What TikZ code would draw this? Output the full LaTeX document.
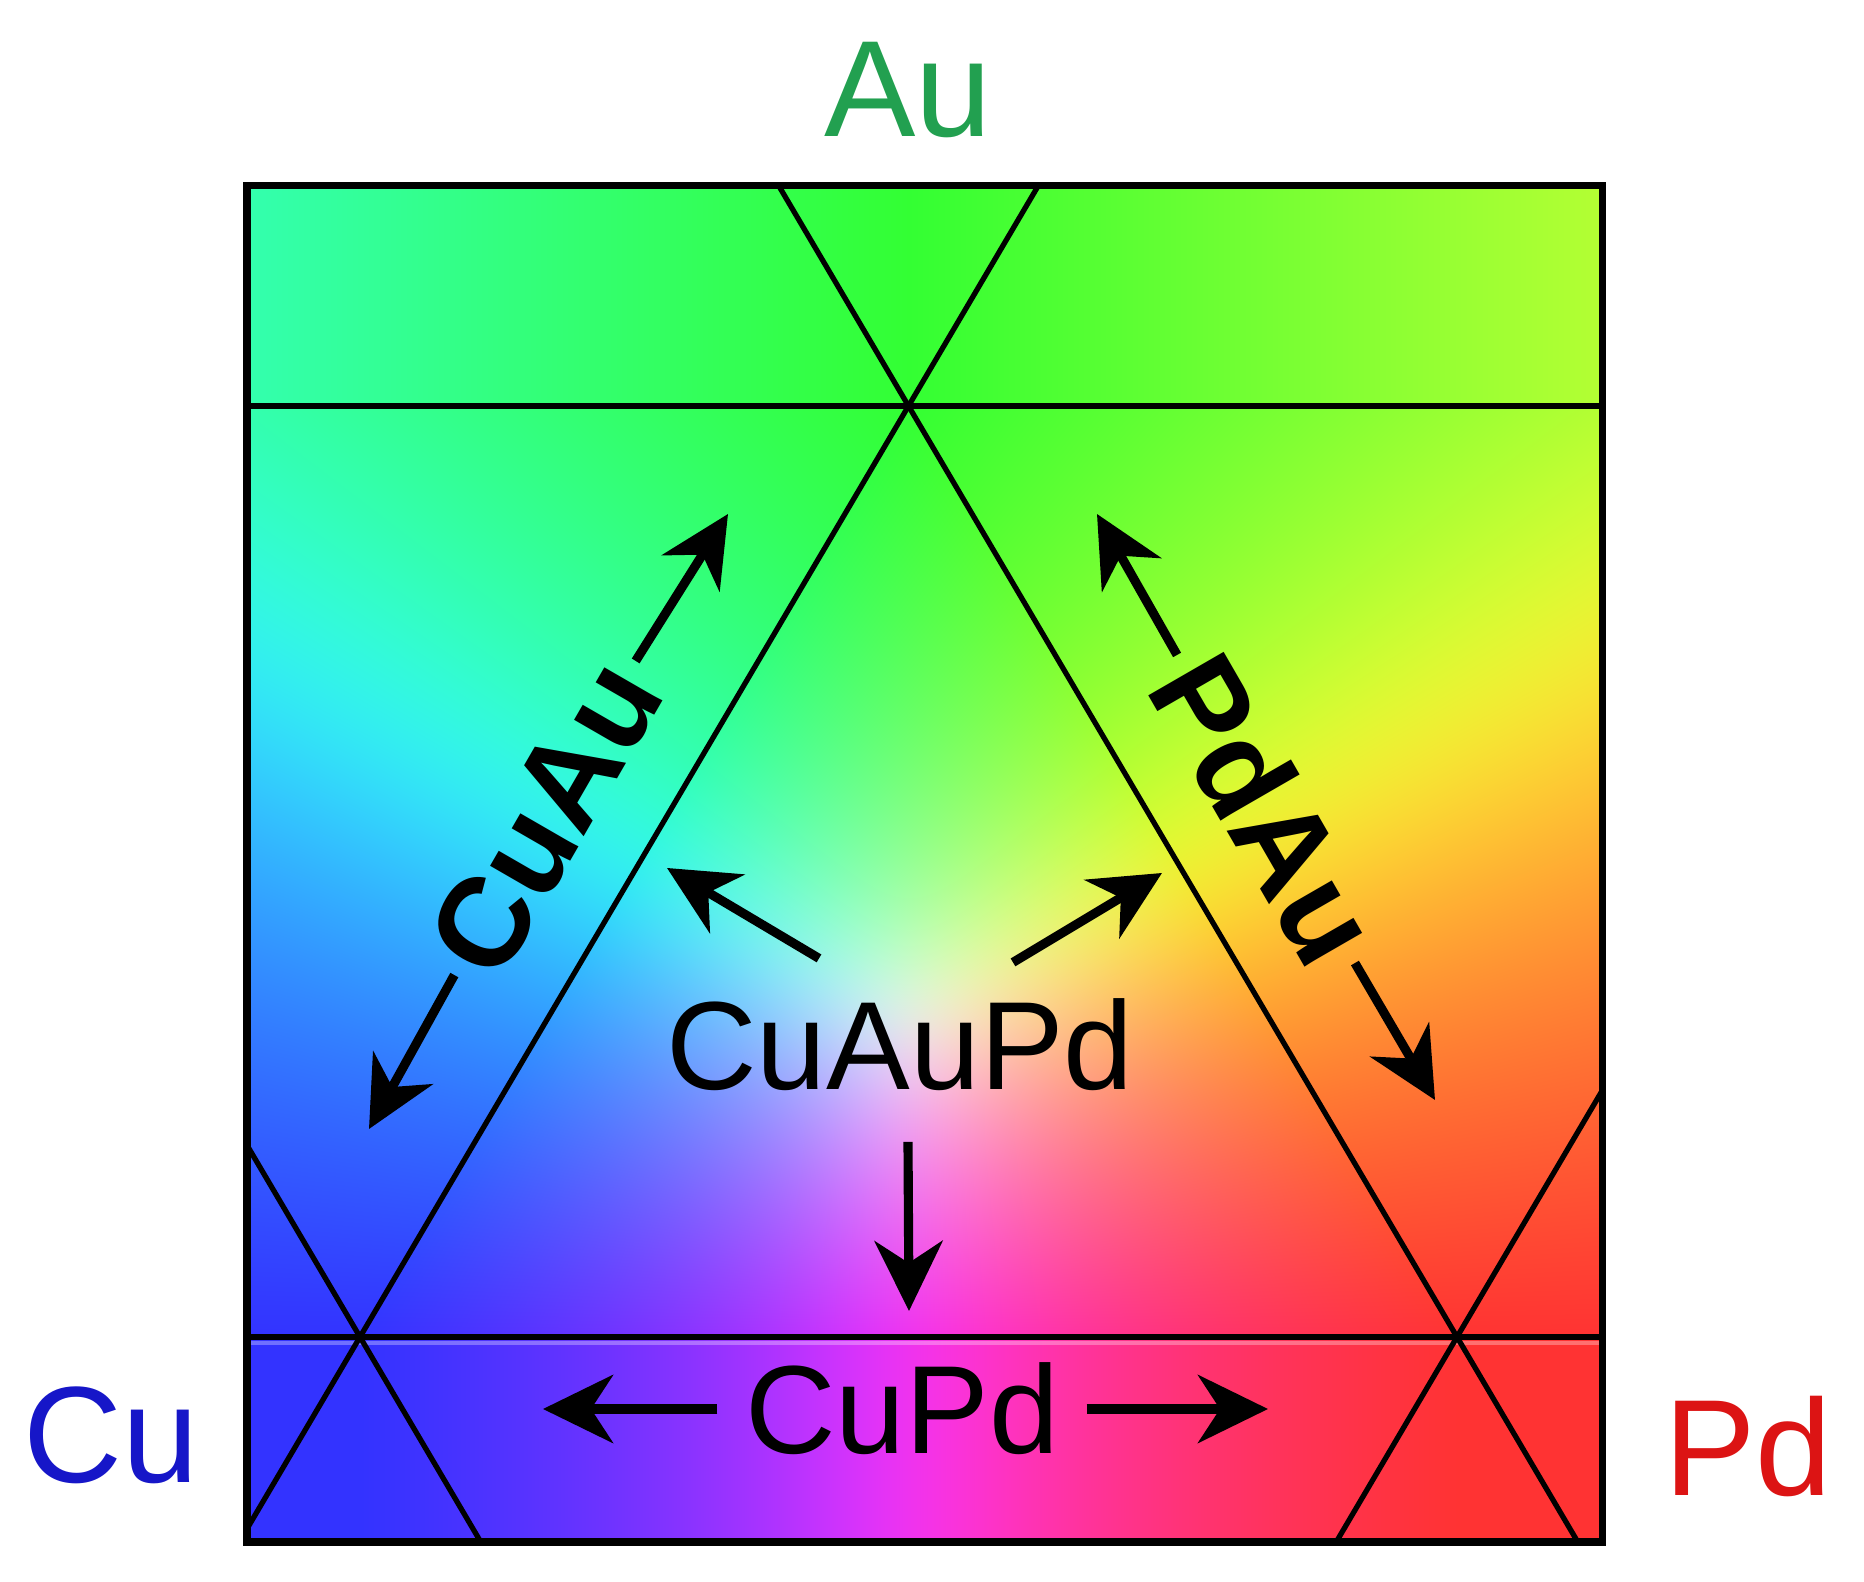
\documentclass[tikz,border=0pt]{standalone}
\usepackage{fontspec}
\setmainfont{Liberation Sans}
\usetikzlibrary{arrows.meta, positioning, calc}

\definecolor{auGreen}{RGB}{34,160,80}
\definecolor{cuBlue}{RGB}{22,22,200}
\definecolor{pdRed}{RGB}{220,20,20}

% colour field: R = Pd, G = Au, B = Cu (x, y in bp from lower left corner)
\pgfdeclarefunctionalshading{ternary}{\pgfpointorigin}{\pgfpoint{13.54cm}{13.55cm}}{}{%
  28.3465 div 0.39 add
  dup 2.44 lt {pop 2.44} if
  dup 11.75 gt {pop 11.75} if
  2.44 sub 9.31 div
  exch 28.3465 div 2.47 add
  1 index 5.485 mul 3.6 add sub 10.97 div
  1 2 index sub 1 index sub
  dup 0 lt {pop 0} if
  exch dup 0 lt {pop 0} if exch
  3 -1 roll exch
  2 index dup mul dup mul dup mul
  2 index dup mul dup mul dup mul add
  1 index dup mul dup mul dup mul add
  0.125 exp
  dup 3 1 roll div 0.8 mul 0.2 add
  3 1 roll
  dup 3 1 roll div 0.8 mul 0.2 add
  3 1 roll
  4 -1 roll exch div 0.8 mul 0.2 add
  3 1 roll
}

\begin{document}
\begin{tikzpicture}[
    elem/.style={font=\fontsize{39}{44}\selectfont, inner sep=0, anchor=base},
    mix/.style={font=\fontsize{35.7}{40}\selectfont, inner sep=0},
    pair/.style={font=\fontsize{36}{40}\selectfont\bfseries, inner xsep=0.12cm, inner ysep=0},
    edge/.style={line width=1.5pt},
    band/.style={line width=1.7pt},
    arr/.style={line width=2.6pt, -{Stealth[length=0.7cm, width=0.68cm, inset=0.22cm]}}
  ]
  \useasboundingbox (0,0) rectangle (18.64,15.81);

  % Triangle corners
  \coordinate (Cu) at (3.60,2.44);
  \coordinate (Pd) at (14.57,2.44);
  \coordinate (Au) at (9.085,11.75);

  % Colour field
  \node[inner sep=0, anchor=south west] (field) at (2.47,0.39) {\pgfuseshading{ternary}};

  % Bands and extended sides
  \begin{scope}
    \clip (field.south west) rectangle (field.north east);
    \draw[band] (field.west |- Au) -- (field.east |- Au);
    \draw[band] (field.west |- Cu) -- (field.east |- Cu);
    \draw[white, opacity=0.3, line width=1.2pt] ($(field.west |- Cu)+(0,-0.06)$) -- ($(field.east |- Cu)+(0,-0.06)$);
    \draw[edge] ($(Cu)!-0.4!(Au)$) -- ($(Au)!-0.4!(Cu)$);
    \draw[edge] ($(Pd)!-0.4!(Au)$) -- ($(Au)!-0.4!(Pd)$);
    \draw[edge] ($(Cu)+(Pd)-(Au)$) -- ($(Cu)+(Au)-(Pd)$);
    \draw[edge] ($(Pd)+(Cu)-(Au)$) -- ($(Pd)+(Au)-(Cu)$);
  \end{scope}
  \draw[line width=2pt] (field.south west) rectangle (field.north east);

  % Element labels
  \node[elem, text=auGreen] (lblAu) at (9.08,14.44) {Au};
  \node[elem, text=cuBlue] (lblCu) at (1.11,0.99) {Cu};
  \node[elem, text=pdRed] (lblPd) at (17.48,0.86) {Pd};

  % Alloy labels
  \node[mix, anchor=base] (CuAuPd) at (9.00,4.91) {CuAuPd};
  \node[mix, inner xsep=0.27cm] (CuPd) at (9.02,1.72) {CuPd};
  \node[pair, rotate=60] (CuAu) at (5.45,7.63) {CuAu};
  \node[pair, rotate=-60] (PdAu) at (12.66,7.72) {PdAu};

  % Arrow tips
  \coordinate (tipCuAuA) at (7.28,10.67);
  \coordinate (tipCuAuB) at (3.69,4.52);
  \coordinate (tipPdAuA) at (10.97,10.67);
  \coordinate (tipPdAuB) at (14.35,4.81);
  \coordinate (tipMixL) at (6.67,7.13);
  \coordinate (tipMixR) at (11.62,7.08);
  \coordinate (tipMixD) at (9.09,2.70);
  \coordinate (tipCuPdL) at (5.43,1.72);
  \coordinate (tipCuPdR) at (12.68,1.72);

  \draw[arr] (CuAu.east) -- (tipCuAuA);
  \draw[arr] (CuAu.west) -- (tipCuAuB);
  \draw[arr] (PdAu.west) -- (tipPdAuA);
  \draw[arr] (PdAu.east) -- (tipPdAuB);
  \draw[arr] ([shift={(-0.81,0.40)}]CuAuPd.north) -- (tipMixL);
  \draw[arr] ([shift={(1.13,0.36)}]CuAuPd.north) -- (tipMixR);
  \draw[arr] ([shift={(0.08,-0.50)}]CuAuPd.south) -- (tipMixD);
  \draw[arr] (CuPd.west) -- (tipCuPdL);
  \draw[arr] (CuPd.east) -- (tipCuPdR);
\end{tikzpicture}
\end{document}
